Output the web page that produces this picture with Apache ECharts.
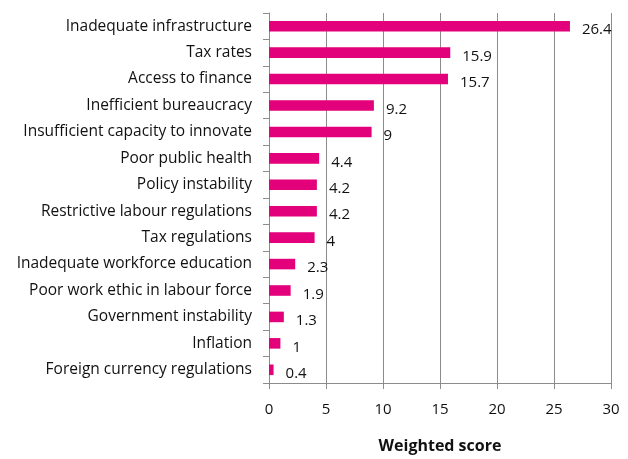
<!DOCTYPE html>
<html><head><meta charset="utf-8">
<script src="https://cdn.jsdelivr.net/npm/echarts@6/dist/echarts.min.js"></script>
<style>html,body{margin:0;padding:0;background:#fff;overflow:hidden}#c{width:628px;height:459px}</style>
</head><body><div id="c"></div>
<script>
const categories = ["Inadequate infrastructure","Tax rates","Access to finance","Inefficient bureaucracy","Insufficient capacity to innovate","Poor public health","Policy instability","Restrictive labour regulations","Tax regulations","Inadequate workforce education","Poor work ethic in labour force","Government instability","Inflation","Foreign currency regulations"];
const values = [26.4,15.9,15.7,9.2,9,4.4,4.2,4.2,4,2.3,1.9,1.3,1,0.4];
const xTicks = [0,5,10,15,20,25,30];
const font = "'Open Sans', sans-serif";
const chart = echarts.init(document.getElementById('c'));
chart.setOption({
  animation:false,
  grid:{left:269,right:17,top:13,bottom:66,containLabel:false},
  xAxis:{type:'value',min:xTicks[0],max:xTicks[xTicks.length-1],interval:5,
    name:'Weighted score',nameLocation:'middle',nameGap:55,
    nameTextStyle:{fontFamily:font,fontSize:16,fontWeight:'bold',color:'#111'},
    axisLine:{show:true,lineStyle:{color:'#8c8c8c'}},
    axisTick:{show:true,length:6,lineStyle:{color:'#8c8c8c'}},
    splitLine:{show:true,lineStyle:{color:'#8c8c8c',width:1}},
    axisLabel:{margin:19,fontFamily:font,fontSize:15,color:'#111'}},
  yAxis:{type:'category',data:categories,inverse:true,
    axisLine:{show:true,lineStyle:{color:'#8c8c8c'}},
    axisTick:{show:true,length:6,lineStyle:{color:'#8c8c8c'}},
    axisLabel:{margin:17,fontFamily:font,fontSize:15.5,color:'#111'}},
  series:[{type:'bar',data:values,barWidth:'40%',
    itemStyle:{color:'#E3007B'},
    label:{show:true,position:'right',distance:12,offset:[0,4],fontFamily:font,fontSize:15,color:'#111'}}]
});
</script></body></html>
